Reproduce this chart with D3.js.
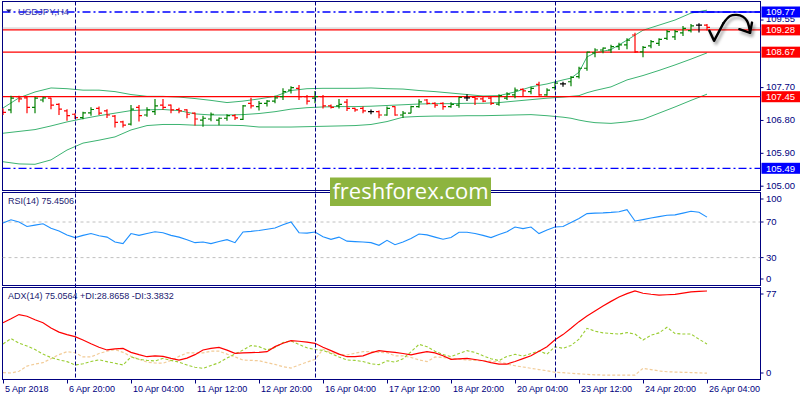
<!DOCTYPE html>
<html>
<head>
<meta charset="utf-8">
<script src="https://cdn.jsdelivr.net/npm/d3@7"></script>
<style>
  body { margin: 0; background: #fff; }
  svg { display: block; font-family: "Liberation Sans", Arial, sans-serif; }
</style>
</head>
<body>
<svg id="chart" width="800" height="400"></svg>
<script>
// USDJPY H4 bars (bar 0 = 5 Apr 16:00)
const barOpen = [107.11,107.09,107.45,107.42,107.16,107.36,107.41,107.24,107.06,106.97,106.88,107.01,107.13,107.06,106.92,106.76,106.70,107.16,106.95,107.04,107.22,107.22,107.10,107.09,107.00,106.81,106.84,106.81,106.86,106.93,106.83,107.27,107.18,107.27,107.33,107.45,107.63,107.68,107.45,107.41,107.45,107.20,107.20,107.30,107.13,107.13,107.04,107.04,106.95,107.18,106.95,107.00,107.18,107.36,107.27,107.27,107.18,107.22,107.42,107.43,107.39,107.41,107.25,107.41,107.50,107.65,107.59,107.79,107.50,107.70,107.80,107.86,108.00,108.23,108.65,108.73,108.73,108.82,108.87,109.14,108.68,108.84,108.91,109.05,109.09,109.20,109.26,109.41,109.41];
const barHigh = [107.13,107.48,107.48,107.45,107.45,107.45,107.42,107.27,107.11,107.00,107.04,107.16,107.18,107.11,106.95,106.79,107.22,107.22,107.16,107.39,107.39,107.24,107.15,107.11,107.02,106.93,107.02,106.88,106.97,106.97,107.22,107.42,107.33,107.36,107.48,107.68,107.74,107.77,107.50,107.61,107.50,107.24,107.39,107.39,107.15,107.18,107.10,107.07,107.18,107.19,107.06,107.20,107.38,107.39,107.30,107.30,107.30,107.45,107.52,107.45,107.45,107.45,107.52,107.57,107.70,107.68,107.72,107.86,107.68,107.86,107.86,108.02,108.27,108.68,108.78,108.80,108.87,108.93,109.05,109.20,108.84,109.00,109.05,109.28,109.28,109.39,109.44,109.46,109.44];
const barLow = [106.95,107.00,107.30,107.00,107.00,107.30,107.11,106.95,106.79,106.84,106.83,106.93,106.95,106.87,106.61,106.61,106.66,106.77,106.90,106.95,107.09,107.00,107.00,106.86,106.66,106.63,106.78,106.67,106.79,106.81,106.81,107.13,107.07,107.18,107.27,107.36,107.54,107.36,107.24,107.27,107.13,107.13,107.13,107.06,107.04,107.00,106.97,106.86,106.93,106.93,106.87,107.00,107.15,107.24,107.15,107.09,107.15,107.15,107.33,107.22,107.30,107.22,107.20,107.36,107.41,107.45,107.52,107.48,107.48,107.63,107.72,107.74,107.95,108.16,108.53,108.64,108.65,108.73,108.75,108.65,108.53,108.78,108.84,109.00,109.00,109.11,109.21,109.21,109.26];
const barClose = [107.02,107.41,107.39,107.16,107.41,107.42,107.22,107.11,106.93,106.88,107.01,107.10,107.00,106.95,106.75,106.67,107.11,106.93,107.09,107.20,107.16,107.09,107.06,106.97,106.84,106.86,106.97,106.86,106.93,106.87,107.20,107.20,107.27,107.33,107.42,107.59,107.70,107.45,107.33,107.45,107.20,107.16,107.24,107.13,107.09,107.06,107.04,106.95,107.13,106.95,107.00,107.18,107.31,107.27,107.22,107.18,107.24,107.43,107.42,107.39,107.33,107.27,107.48,107.52,107.63,107.61,107.68,107.50,107.63,107.82,107.80,107.98,108.23,108.67,108.73,108.78,108.82,108.87,109.00,108.68,108.80,108.96,109.02,109.23,109.23,109.32,109.39,109.41,109.35];

// Bollinger bands, sampled at these bars
const bbIdx = [0,2,4,6,8,10,12,14,16,18,20,22,24,26,28,30,32,34,36,38,40,42,44,46,48,50,52,54,56,58,60,62,64,66,68,70,71,72,73,74,76,78,80,82,84,86,88];
const bbUpper = [107.14,107.42,107.58,107.69,107.67,107.63,107.63,107.59,107.51,107.46,107.46,107.44,107.40,107.35,107.29,107.33,107.39,107.46,107.62,107.67,107.68,107.68,107.68,107.69,107.67,107.66,107.62,107.59,107.55,107.51,107.47,107.48,107.58,107.72,107.80,107.91,107.96,108.12,108.54,108.65,108.74,109.00,109.27,109.41,109.55,109.74,109.82];
const bbMiddle = [106.45,106.50,106.55,106.65,106.76,106.85,106.93,107.00,107.07,107.09,107.10,107.07,106.98,106.95,106.95,106.96,106.99,107.04,107.11,107.15,107.17,107.18,107.18,107.19,107.21,107.23,107.25,107.26,107.26,107.27,107.27,107.29,107.33,107.37,107.41,107.44,107.46,107.48,107.56,107.62,107.72,107.91,108.03,108.17,108.32,108.48,108.65];
const bbLower = [105.67,105.61,105.60,105.72,105.99,106.18,106.26,106.35,106.54,106.66,106.69,106.69,106.67,106.67,106.67,106.66,106.62,106.62,106.62,106.63,106.64,106.65,106.66,106.69,106.77,106.89,106.91,106.92,106.92,106.93,106.93,106.94,106.95,106.96,106.93,106.89,106.86,106.81,106.77,106.74,106.72,106.76,106.83,107.00,107.17,107.35,107.52];

// RSI(14) per bar
const rsiValues = [69,72.5,70,65,66.5,68,63,60,55.5,52.5,55,57,54.5,53,47.5,45.7,57,55,57,59,58,55,53,50,46.8,47.5,45.7,48,50.2,46.8,58.8,59.5,60.5,61.8,63.3,67,70,58,57.5,58.8,53.5,50.5,53,48.5,48,47.5,46.8,43.8,49.4,44.5,47.5,51.5,56.5,55.5,53,50.6,52.5,58.5,58.5,57,55,52.5,56,59,64.4,62.6,64.4,57,61,64.4,65,69.5,74,79.4,80,80.3,80.8,81.5,83.9,71.1,72.7,74.5,76,77.5,78,80,82,81,75.45];

// ADX(14), +DI, -DI per bar
const adxValues = [47.4,50.8,54.5,53,50,47.4,42.8,39.2,37,35.2,32.3,29,26,23.6,24.6,25,21.5,19.5,17.7,18.4,18,16.3,14.8,16.5,19.5,23.6,25,25.9,23.5,20.7,21,21.3,21.5,22.1,26.5,29.5,31.7,31.2,30.5,29.4,26,23,20,17.7,17.8,18.5,21,23,22.2,21.5,20.5,19.3,20.8,22.1,21,18.5,15.4,15.8,16.3,15.3,14.2,12.5,11.3,11.3,13.5,16,18.5,22.5,26.4,32.5,37,42.5,48.3,53.2,57.6,62,66,69.8,72.8,75.1,73.1,72.2,71.5,71.8,72.1,73.2,74.3,74.8,75.06];
const plusDI = [28.8,33.5,29.5,27,24,20,17,15,13.4,10.5,11.5,13.5,15,13.4,12,10.5,17.5,15.5,14.5,14,16.3,14.5,13,10.5,8.5,7.6,10,12.5,16.5,20,23.5,27.5,26.5,23.6,25.8,30,31.5,28.3,25.5,24,23.2,20.5,17.5,14.8,14.5,13.5,11.5,10.8,14.2,13,16,22,28.5,26.5,22.5,19.5,17.8,20.5,23,21.5,18.5,16,14.3,18,19.8,18.3,20.5,22.7,20,26.4,25,27.5,33,42.5,40,38.5,38,37.5,38.7,37.5,32.3,36.5,38.5,43.4,38,37.5,37.5,33,28.87];
const minusDI = [3.8,3.5,5,9.5,11.3,12.5,16,19.5,22.1,21.2,17.5,17.5,20.5,22.5,24,21.5,18,15.5,13,12.2,12,14.5,18,21,21,21,22.5,22.5,20,17.5,14.8,14.5,14.2,12.5,11,9,7.8,10.5,13,15.4,24.2,21,20,19.2,20.8,22.1,22.1,21.5,21.2,18.5,18.5,17,15,13.4,17.5,17,16.3,15.5,14.8,14.5,14.2,13.8,13.4,11.5,9.8,8.7,7.6,6.5,5.5,4.1,3.8,3.2,2.8,2.3,1.9,1.7,1.7,1.7,1.7,1.7,7.6,6.5,5.3,4.6,4.3,4.1,3.9,3.6,3.38];

// Time axis labels and the bars they sit on
const timeLabels = ['5 Apr 2018','6 Apr 20:00','10 Apr 04:00','11 Apr 12:00','12 Apr 20:00','16 Apr 04:00','17 Apr 12:00','18 Apr 20:00','20 Apr 04:00','23 Apr 12:00','24 Apr 20:00','26 Apr 04:00'];
const timeLabelIdx = [0,8,16,24,32,40,48,56,64,72,80,88];
const weekStartIdx = [9,39,69];

// Price axis ticks and drawn levels
const priceTicks = [109.55,107.70,106.80,105.90,105.00];
const redLevels = [109.28,108.67,107.45];
const blueLevels = [109.77,105.49];
const askPrice = 109.33;
const rsiLevels = [70,30];
const rsiTicks = [100,70,30,0];
const adxTicks = [77,0];

// Hand-drawn forecast arrow, in (bar, price)
const checkPts = [[88.29,109.26],[88.88,108.98],[90.04,109.46]];
const curvePts = [[90.04,109.46],[90.88,109.66],[91.71,109.69],[92.5,109.64],[93.0,109.53],[93.25,109.37],[93.38,109.20]];
const headPts = [[92.04,109.30],[93.38,109.20],[93.63,109.48]];

const navy = '#000080';
const plotL = 2.5, plotR = 760.5;
const mainT = 1.5, mainB = 190.5;
const rsiT = 192.5, rsiB = 285.5;
const adxT = 287.5, adxB = 379.5;

const svg = d3.select('#chart');

const defs = svg.append('defs');
const sh = defs.append('filter').attr('id', 'shadow')
  .attr('x', '-20%').attr('y', '-50%').attr('width', '140%').attr('height', '250%');
sh.append('feDropShadow').attr('dx', 2).attr('dy', 3).attr('stdDeviation', 1.8)
  .attr('flood-color', '#000').attr('flood-opacity', 0.35);

[['clip-main', mainT, mainB], ['clip-rsi', rsiT, rsiB], ['clip-adx', adxT, adxB]].forEach(([id, t, b]) => {
  defs.append('clipPath').attr('id', id).append('rect')
    .attr('x', plotL).attr('y', t).attr('width', plotR - plotL).attr('height', b - t);
});

// Scales
const x = d3.scaleLinear().domain([0, 88]).range([3, 707]);
const y = d3.scaleLinear().domain([105.49, 109.77]).range([168.3, 12]);
const rsiY = d3.scaleLinear().domain([0, 100]).range([284.3, 195.3]);
const adxY = d3.scaleLinear().domain([0, 75.06]).range([377, 291]);

// Panel frames
[[mainT, mainB], [rsiT, rsiB], [adxT, adxB]].forEach(([t, b]) => {
  svg.append('rect')
    .attr('x', plotL).attr('y', t).attr('width', plotR - plotL).attr('height', b - t)
    .attr('fill', '#fff').attr('stroke', navy).attr('stroke-width', 1)
    .attr('shape-rendering', 'crispEdges');
});

// ---- main panel ----
const main = svg.append('g').attr('clip-path', 'url(#clip-main)');

main.append('line')
  .attr('x1', plotL).attr('x2', plotR).attr('y1', y(askPrice)).attr('y2', y(askPrice))
  .attr('stroke', '#c8c8c8').attr('stroke-width', 1);

const bands = [bbUpper, bbMiddle, bbLower];
const bbLine = d3.line().x(d => x(d[0])).y(d => y(d[1]));
bands.forEach(vals => {
  main.append('path')
    .attr('d', bbLine(bbIdx.map((i, k) => [i, vals[k]])))
    .attr('fill', 'none').attr('stroke', '#3cb371').attr('stroke-width', 1);
});

blueLevels.forEach(v => {
  main.append('line')
    .attr('x1', plotL).attr('x2', plotR).attr('y1', y(v)).attr('y2', y(v))
    .attr('stroke', '#0000ff').attr('stroke-width', 1.3)
    .attr('stroke-dasharray', '8,3,2,3');
});

redLevels.forEach(v => {
  main.append('line')
    .attr('x1', plotL).attr('x2', plotR).attr('y1', y(v)).attr('y2', y(v))
    .attr('stroke', '#ff0000').attr('stroke-width', 1.3);
});

// solid blue segments over the levels
main.append('line')
  .attr('x1', x(71.2)).attr('x2', plotR).attr('y1', y(108.67)).attr('y2', y(108.67))
  .attr('stroke', '#0000ff').attr('stroke-width', 1.5)
  .style('filter', 'url(#shadow)');
main.append('line')
  .attr('x1', x(86.1)).attr('x2', plotR).attr('y1', y(109.77)).attr('y2', y(109.77))
  .attr('stroke', '#0000ff').attr('stroke-width', 1.3);

// OHLC bars
const barColor = i => barClose[i] > barOpen[i] ? '#008000' : (barClose[i] < barOpen[i] ? '#ff0000' : '#000000');
const bars = main.selectAll('.bar').data(d3.range(barOpen.length)).enter()
  .append('g').attr('class', 'bar')
  .attr('stroke', barColor).attr('stroke-width', 1.2);
bars.append('line')
  .attr('x1', i => x(i)).attr('x2', i => x(i))
  .attr('y1', i => y(barHigh[i])).attr('y2', i => y(barLow[i]));
bars.append('line')
  .attr('x1', i => x(i) - 3).attr('x2', i => x(i))
  .attr('y1', i => y(barOpen[i])).attr('y2', i => y(barOpen[i]));
bars.append('line')
  .attr('x1', i => x(i)).attr('x2', i => x(i) + 3)
  .attr('y1', i => y(barClose[i])).attr('y2', i => y(barClose[i]));

// Forecast arrow
const arrow = main.append('g')
  .attr('fill', 'none').attr('stroke', '#000').attr('stroke-width', 2.4)
  .attr('stroke-linecap', 'round').attr('stroke-linejoin', 'round')
  .style('filter', 'url(#shadow)');
const pLine = d3.line().x(d => x(d[0])).y(d => y(d[1]));
arrow.append('path').attr('d', pLine(checkPts));
arrow.append('path').attr('d', pLine.curve(d3.curveCatmullRom)(curvePts));
arrow.append('path').attr('d', d3.line().x(d => x(d[0])).y(d => y(d[1]))(headPts));

// Title
svg.append('path')
  .attr('d', 'M6,9.5 L11.5,9.5 L8.75,12.5 Z').attr('fill', '#1a1a60');
svg.append('text')
  .attr('x', 18).attr('y', 14.5)
  .attr('font-size', '9.5px').attr('fill', '#3535a8')
  .text('USDJPY,H4');

// ---- RSI panel ----
const rsiG = svg.append('g').attr('clip-path', 'url(#clip-rsi)');
rsiLevels.forEach(v => {
  rsiG.append('line')
    .attr('x1', plotL).attr('x2', plotR).attr('y1', rsiY(v)).attr('y2', rsiY(v))
    .attr('stroke', '#c0c0c0').attr('stroke-width', 1).attr('stroke-dasharray', '3,3');
});
rsiG.append('path')
  .attr('d', d3.line().x((d, i) => x(i)).y(d => rsiY(d))(rsiValues))
  .attr('fill', 'none').attr('stroke', '#1e90ff').attr('stroke-width', 1.1);
svg.append('text')
  .attr('x', 8).attr('y', 204)
  .attr('font-size', '9px').attr('fill', '#1a1a70')
  .text('RSI(14) 75.4506');

// ---- ADX panel ----
const adxG = svg.append('g').attr('clip-path', 'url(#clip-adx)');
const adxLine = d3.line().x((d, i) => x(i)).y(d => adxY(d));
adxG.append('path').attr('d', adxLine(minusDI))
  .attr('fill', 'none').attr('stroke', '#f2cc98').attr('stroke-width', 1.2).attr('stroke-dasharray', '3,2');
adxG.append('path').attr('d', adxLine(plusDI))
  .attr('fill', 'none').attr('stroke', '#9acd32').attr('stroke-width', 1.1).attr('stroke-dasharray', '3,2');
adxG.append('path').attr('d', adxLine(adxValues))
  .attr('fill', 'none').attr('stroke', '#ff0000').attr('stroke-width', 1.2);
svg.append('text')
  .attr('x', 8).attr('y', 299)
  .attr('font-size', '9px').attr('fill', '#1a1a70')
  .text('ADX(14) 75.0564 +DI:28.8658 -DI:3.3832');

// Week separators across all panels
weekStartIdx.forEach(i => {
  svg.append('line')
    .attr('x1', x(i) + 0.5).attr('x2', x(i) + 0.5).attr('y1', mainT).attr('y2', adxB)
    .attr('stroke', navy).attr('stroke-width', 1).attr('stroke-dasharray', '4,2');
});

// ---- right axis ----
const axisText = (yy, label, color) => svg.append('text')
  .attr('x', 766).attr('y', yy).attr('dy', '0.35em')
  .attr('font-size', '9.5px').attr('fill', color || navy).text(label);
const axisTick = yy => svg.append('line')
  .attr('x1', plotR).attr('x2', plotR + 3).attr('y1', yy).attr('y2', yy)
  .attr('stroke', navy).attr('stroke-width', 1);

priceTicks.forEach(v => { axisTick(y(v)); axisText(y(v) - 1, v.toFixed(2)); });

[...redLevels.map(v => [v, '#ff0000']), ...blueLevels.map(v => [v, '#0000ff'])].forEach(([v, c]) => {
  svg.append('rect')
    .attr('x', plotR + 1).attr('y', y(v) - 5.5).attr('width', 800 - plotR - 1).attr('height', 11)
    .attr('fill', c);
  axisText(y(v), v.toFixed(2), '#fff');
});

rsiTicks.forEach(v => {
  const yy = Math.max(rsiT + 6.5, Math.min(rsiB - 6.5, rsiY(v)));
  axisTick(yy); axisText(yy, v);
});
adxTicks.forEach(v => {
  const yy = Math.max(adxT + 6.5, Math.min(adxB - 6.5, adxY(v)));
  axisTick(yy); axisText(yy, v);
});

// ---- time axis ----
timeLabelIdx.forEach((i, k) => {
  svg.append('line')
    .attr('x1', x(i) + 0.5).attr('x2', x(i) + 0.5).attr('y1', adxB).attr('y2', adxB + 4)
    .attr('stroke', navy).attr('stroke-width', 1);
  svg.append('text')
    .attr('x', x(i) + 2).attr('y', 392)
    .attr('font-size', '9px').attr('fill', navy)
    .text(timeLabels[k]);
});

// Watermark
svg.append('rect')
  .attr('x', 330).attr('y', 177.5).attr('width', 161).attr('height', 28.5)
  .attr('fill', '#8db43f');
svg.append('text')
  .attr('x', 410.5).attr('y', 199).attr('text-anchor', 'middle')
  .attr('font-family', '"Open Sans", sans-serif').attr('font-size', '22px')
  .attr('fill', '#fff')
  .text('freshforex.com');
</script>
</body>
</html>
